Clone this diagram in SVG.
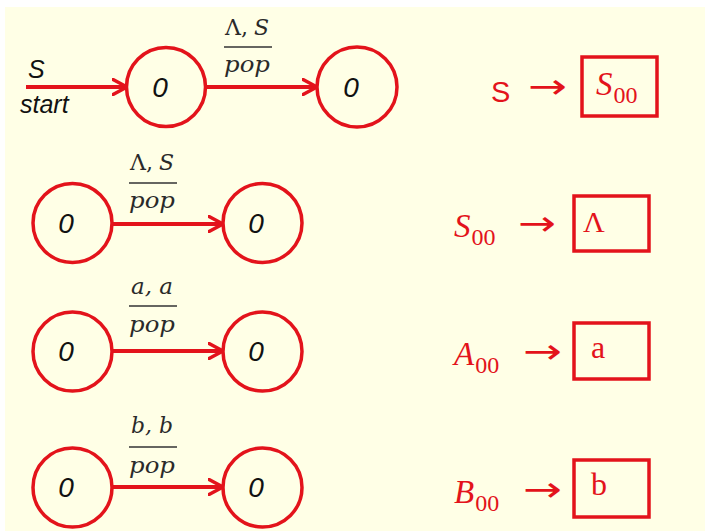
<svg xmlns="http://www.w3.org/2000/svg" width="705" height="531" viewBox="0 0 705 531">
<defs>
<style>
.bg{fill:#FFFFE6}
.st{fill:none;stroke:#E3131B;stroke-width:3.5}
.edge{fill:none;stroke:#E3131B;stroke-width:4}
.bar{stroke:#333;stroke-width:1.6}
.zero{font-family:"Liberation Sans",Arial,sans-serif;font-style:italic;font-size:28px;fill:#111;text-anchor:middle}
.lab{font-family:"Liberation Sans",Arial,sans-serif;font-style:italic;font-size:25px;fill:#111}
.frac{font-family:"DejaVu Serif","Liberation Serif",serif;font-size:22px;fill:#2a2a2a}
.it{font-style:italic}
.red{font-family:"Liberation Serif","Times New Roman",serif;fill:#E3131B}
.arr{font-family:"DejaVu Sans",sans-serif;font-size:34px;fill:#E3131B}
.box{fill:none;stroke:#E3131B;stroke-width:3.5}
</style>
<marker id="ah" viewBox="0 0 16 18" refX="15" refY="9" markerWidth="16" markerHeight="18" markerUnits="userSpaceOnUse" orient="auto">
<path d="M1,1.5 L15,9 L1,16.5" fill="none" stroke="#E3131B" stroke-width="3.5" stroke-linecap="round" stroke-linejoin="round"/>
</marker>
</defs>
<rect width="705" height="531" fill="#FFFFFF"/>
<rect class="bg" x="5" y="7" width="700" height="524"/>

<g id="connectors">
<line class="edge" x1="26" y1="87" x2="127" y2="87" marker-end="url(#ah)"/>
<line class="edge" x1="206" y1="87" x2="317" y2="87" marker-end="url(#ah)"/>
<line class="edge" x1="112" y1="224" x2="223" y2="224" marker-end="url(#ah)"/>
<line class="edge" x1="112" y1="351" x2="223" y2="351" marker-end="url(#ah)"/>
<line class="edge" x1="112" y1="487" x2="223" y2="487" marker-end="url(#ah)"/>
</g>

<g id="labels-edges">
<text class="lab" x="28" y="78">S</text>
<text class="lab" x="20" y="113">start</text>

<text class="frac" x="225" y="35">Λ,</text>
<text class="frac it" x="254" y="35">S</text>
<line class="bar" x1="224" y1="47" x2="272" y2="47"/>
<text class="frac it" x="224" y="72" textLength="46" lengthAdjust="spacingAndGlyphs">pop</text>

<text class="frac" x="130" y="170">Λ,</text>
<text class="frac it" x="159" y="170">S</text>
<line class="bar" x1="129" y1="183" x2="177" y2="183"/>
<text class="frac it" x="129" y="208" textLength="46" lengthAdjust="spacingAndGlyphs">pop</text>

<text class="frac it" x="131" y="294" textLength="42" lengthAdjust="spacingAndGlyphs">a, a</text>
<line class="bar" x1="129" y1="306" x2="177" y2="306"/>
<text class="frac it" x="129" y="332" textLength="46" lengthAdjust="spacingAndGlyphs">pop</text>

<text class="frac it" x="131" y="433" textLength="42" lengthAdjust="spacingAndGlyphs">b, b</text>
<line class="bar" x1="129" y1="447" x2="177" y2="447"/>
<text class="frac it" x="129" y="473" textLength="46" lengthAdjust="spacingAndGlyphs">pop</text>
</g>

<g id="n1a"><circle class="st" cx="166" cy="87" r="39.5"/><text class="zero" x="160" y="97">0</text></g>
<g id="n1b"><circle class="st" cx="357" cy="87" r="40"/><text class="zero" x="351" y="97">0</text></g>
<g id="n2a"><circle class="st" cx="72.5" cy="223" r="39.5"/><text class="zero" x="66" y="233">0</text></g>
<g id="n2b"><circle class="st" cx="262.5" cy="223" r="39.5"/><text class="zero" x="256" y="233">0</text></g>
<g id="n3a"><circle class="st" cx="72.5" cy="351.5" r="39.5"/><text class="zero" x="66" y="361">0</text></g>
<g id="n3b"><circle class="st" cx="262.5" cy="351.5" r="39.5"/><text class="zero" x="256" y="361">0</text></g>
<g id="n4a"><circle class="st" cx="72.5" cy="487.5" r="39.5"/><text class="zero" x="66" y="497">0</text></g>
<g id="n4b"><circle class="st" cx="262.5" cy="487.5" r="39.5"/><text class="zero" x="256" y="497">0</text></g>

<g id="rule1">
<text x="491" y="102" font-family="'Liberation Sans',Arial,sans-serif" font-size="29" fill="#E3131B">S</text>
<text class="arr" x="528" y="98" textLength="39" lengthAdjust="spacingAndGlyphs">→</text>
<rect class="box" x="582" y="57" width="75" height="59"/>
<text class="red" x="596" y="95" font-size="33"><tspan font-style="italic">S</tspan><tspan font-size="24" dy="8" dx="1">00</tspan></text>
</g>
<g id="rule2">
<text class="red" x="454" y="237" font-size="33"><tspan font-style="italic">S</tspan><tspan font-size="24" dy="8" dx="1">00</tspan></text>
<text class="arr" x="518" y="235" textLength="38" lengthAdjust="spacingAndGlyphs">→</text>
<rect class="box" x="574" y="196" width="75" height="55"/>
<text class="red" x="583" y="232" font-size="30">Λ</text>
</g>
<g id="rule3">
<text class="red" x="454" y="365" font-size="33"><tspan font-style="italic">A</tspan><tspan font-size="24" dy="8" dx="1">00</tspan></text>
<text class="arr" x="523" y="363" textLength="39" lengthAdjust="spacingAndGlyphs">→</text>
<rect class="box" x="574" y="323" width="75" height="56"/>
<text class="red" x="591" y="358" font-size="32">a</text>
</g>
<g id="rule4">
<text class="red" x="454" y="503" font-size="33"><tspan font-style="italic">B</tspan><tspan font-size="24" dy="8" dx="1">00</tspan></text>
<text class="arr" x="523" y="501" textLength="39" lengthAdjust="spacingAndGlyphs">→</text>
<rect class="box" x="574" y="460" width="75" height="57"/>
<text class="red" x="591" y="495" font-size="32">b</text>
</g>
</svg>
